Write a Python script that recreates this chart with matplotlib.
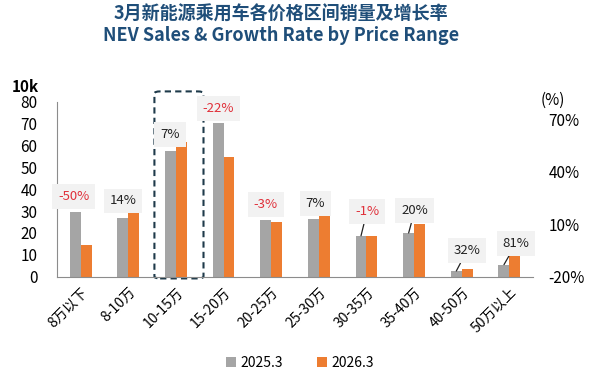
import numpy as np
import matplotlib
matplotlib.use("Agg")
import matplotlib.pyplot as plt
from matplotlib.patches import FancyBboxPatch

plt.rcParams['font.family'] = ['Noto Sans CJK SC', 'DejaVu Sans']

# data (unit: 10k vehicles)
categories = ['8万以下', '8-10万', '10-15万', '15-20万', '20-25万',
              '25-30万', '30-35万', '35-40万', '40-50万', '50万以上']
sales_2025 = [29.5, 26.8, 57.4, 70.3, 25.9, 26.2, 18.7, 20.0, 2.6, 5.5]
sales_2026 = [14.6, 29.9, 61.5, 54.8, 25.0, 28.1, 18.6, 24.1, 3.5, 10.0]
growth = [-50, 14, 7, -22, -3, 7, -1, 20, 32, 81]
series_names = ['2025.3', '2026.3']

# label layout: x shift (categories) and lift above the taller bar (10k units)
label_dx = [-0.14, -0.11, -0.12, -0.11, -0.11, -0.07, 0.01, 0.01, 0.11, 0.14]
label_dy = [7.0, 4.7, 3.5, 6.7, 7.0, 5.3, 11.0, 6.0, 8.4, 5.2]
has_leader = [False, False, False, False, False, False, True, True, True, True]

gray = '#a5a5a5'
orange = '#ed7d31'
navy = '#1f4e79'

fig = plt.figure(figsize=(6.06, 3.82), dpi=100)
ax = fig.add_axes([0.0936, 0.2757, 0.7864, 0.4581])

x = np.arange(len(categories))
w = 0.23
ax.bar(x - w / 2, sales_2025, w, color=gray, label=series_names[0])
ax.bar(x + w / 2, sales_2026, w, color=orange, label=series_names[1])

ax.set_xlim(-0.5, len(categories) - 0.5)
ax.set_ylim(0, 80)
ax.set_yticks(range(0, 81, 10))
ax.tick_params(axis='y', length=0, labelsize=11, pad=14)
ax.set_xticks(x)
ax.set_xticklabels(categories, rotation=45, ha='right', rotation_mode='anchor', fontsize=10)
ax.tick_params(axis='x', length=0, pad=6)
for s in ['top', 'right']:
    ax.spines[s].set_visible(False)
ax.spines['left'].set_color('#8c8c8c')
ax.spines['bottom'].set_color('#8c8c8c')

# right axis for growth rate
ax2 = ax.twinx()
ax2.set_ylim(-20, 80)
ax2.set_yticks([-20, 10, 40, 70])
ax2.set_yticklabels(['-20%', '10%', '40%', '70%'])
ax2.tick_params(axis='y', length=0, labelsize=11, pad=11)
for s in ax2.spines.values():
    s.set_visible(False)

# growth labels
for i, g in enumerate(growth):
    top = max(sales_2025[i], sales_2026[i])
    col = '#e0303a' if g < 0 else '#222222'
    txt_xy = (i + label_dx[i], top + label_dy[i])
    box = dict(boxstyle='square,pad=0.45', fc='#f2f2f2', ec='none')
    if has_leader[i]:
        ax.annotate(f'{g}%', xy=(i - w / 2, sales_2025[i]), xytext=txt_xy,
                    ha='center', va='center', fontsize=9.5, color=col, bbox=box,
                    arrowprops=dict(arrowstyle='-', color='#222222', lw=0.9,
                                    shrinkA=0, shrinkB=0))
    else:
        ax.text(txt_xy[0], txt_xy[1], f'{g}%', ha='center', va='center',
                fontsize=9.5, color=col, bbox=box)

# dashed highlight box around 10-15万
hl = FancyBboxPatch((1.55, -0.8), 1.03, 85.5, boxstyle='round,pad=0,rounding_size=0.12',
                    fill=False, ec='#1e3a4a', lw=1.5, ls=(0, (3, 2)),
                    clip_on=False, mutation_aspect=8)
ax.add_patch(hl)

# titles and unit labels
fig.text(0.464, 0.963, '3月新能源乘用车各价格区间销量及增长率', ha='center', va='center',
         fontsize=13, fontweight='bold', color=navy)
fig.text(0.464, 0.906, 'NEV Sales & Growth Rate by Price Range', ha='center', va='center',
         fontsize=13, fontweight='bold', color=navy)
fig.text(0.042, 0.773, '10k', ha='center', va='center', fontsize=11, fontweight='bold')
fig.text(0.913, 0.738, '(%)', ha='center', va='center', fontsize=11)

fig.legend(loc='center', bbox_to_anchor=(0.495, 0.05), ncol=2, frameon=False,
           fontsize=10, handlelength=0.7, handleheight=0.7, columnspacing=2.5,
           handletextpad=0.3)

fig.savefig('out.png', dpi=100)
